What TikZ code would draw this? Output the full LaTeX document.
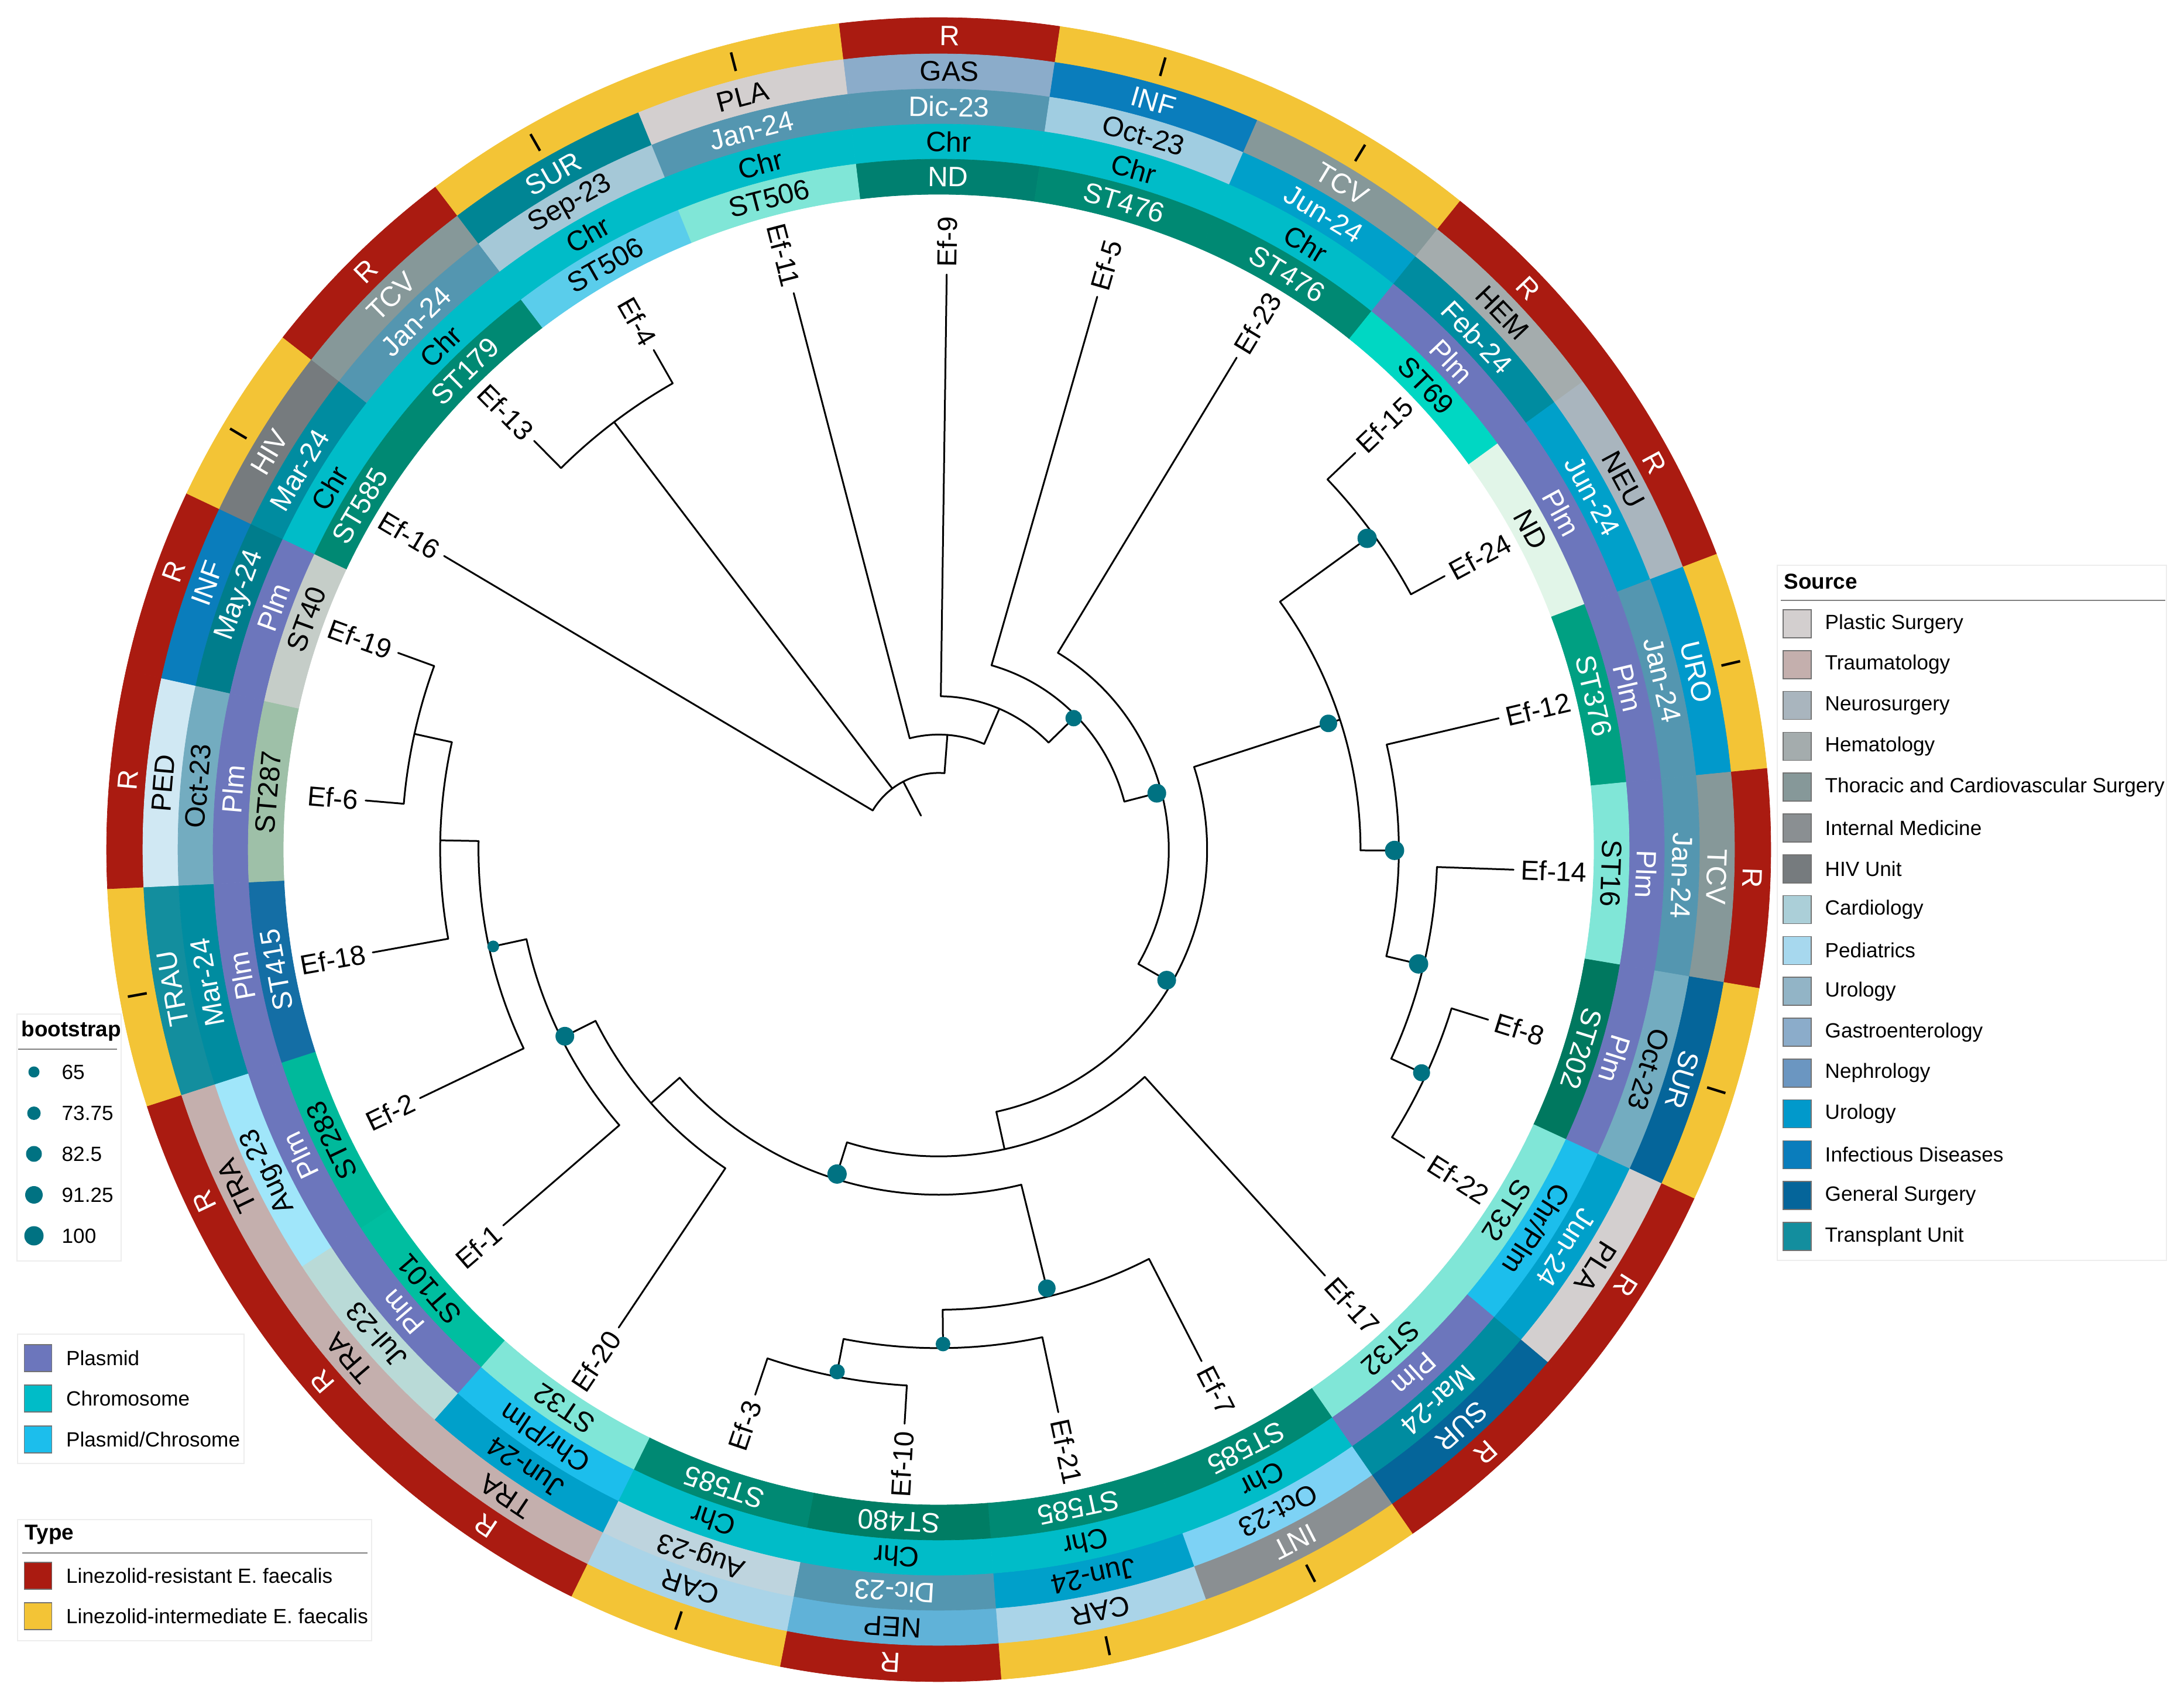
\documentclass[tikz,border=0pt]{standalone}
\usepackage{fontspec}
\setmainfont{Liberation Sans}
% type / location / dots
\definecolor{cR}{RGB}{170,27,17}
\definecolor{cI}{RGB}{243,196,54}
\definecolor{cChr}{RGB}{0,188,200}
\definecolor{cPlm}{RGB}{108,118,188}
\definecolor{cCP}{RGB}{28,190,236}
\definecolor{dotc}{RGB}{0,114,130}
% source (legend)
\definecolor{sPLA}{RGB}{211,207,207}
\definecolor{sTRA}{RGB}{196,175,173}
\definecolor{sNEU}{RGB}{169,181,190}
\definecolor{sHEM}{RGB}{164,172,173}
\definecolor{sTCV}{RGB}{134,152,153}
\definecolor{sINT}{RGB}{138,143,146}
\definecolor{sHIV}{RGB}{118,123,126}
\definecolor{sCAR}{RGB}{171,207,216}
\definecolor{sPED}{RGB}{167,216,238}
\definecolor{sURO}{RGB}{146,180,198}
\definecolor{sGAS}{RGB}{139,172,202}
\definecolor{sNEP}{RGB}{107,150,193}
\definecolor{sURO2}{RGB}{1,153,203}
\definecolor{sINF}{RGB}{10,125,188}
\definecolor{sSUR}{RGB}{5,101,154}
\definecolor{sTRAU}{RGB}{19,142,158}
% ring specific source shades
\definecolor{rPED}{RGB}{208,232,243}
\definecolor{rNEP}{RGB}{96,178,216}
\definecolor{rCAR}{RGB}{170,212,232}
\definecolor{rSUR4}{RGB}{0,133,148}
\definecolor{rGAS}{RGB}{139,172,202}
% dates
\definecolor{dSteel}{RGB}{84,150,176}
\definecolor{dLight}{RGB}{160,205,225}
\definecolor{dBlue}{RGB}{0,160,202}
\definecolor{dTeal}{RGB}{0,140,160}
\definecolor{dOct}{RGB}{115,172,192}
\definecolor{dSky}{RGB}{125,210,245}
\definecolor{dAug}{RGB}{190,212,222}
\definecolor{dJul}{RGB}{185,218,215}
\definecolor{dCyan}{RGB}{160,230,250}
\definecolor{dMay}{RGB}{0,125,140}
\definecolor{dSep}{RGB}{165,200,215}
% ST
\definecolor{tDark}{RGB}{0,137,115}
\definecolor{tND}{RGB}{0,128,112}
\definecolor{t69}{RGB}{0,215,195}
\definecolor{tND2}{RGB}{225,245,232}
\definecolor{t376}{RGB}{0,160,130}
\definecolor{tAqua}{RGB}{128,230,215}
\definecolor{t202}{RGB}{0,120,95}
\definecolor{t480}{RGB}{0,125,100}
\definecolor{t101}{RGB}{0,190,160}
\definecolor{t283}{RGB}{0,185,155}
\definecolor{t415}{RGB}{20,110,165}
\definecolor{t287}{RGB}{158,192,168}
\definecolor{t40}{RGB}{197,205,200}
\definecolor{t506}{RGB}{90,205,235}

\def\lu{0.6553cm}
\newcommand\setleaf[3]{\def\Lt{#1}\def\La{#2}\def\Lb{#3}}
\newcommand\ringcell[6]{%
  \fill[#4, draw=#4, line width=0.2pt] (\La:#1) arc[start angle=\La, end angle=\Lb, radius=#1]
     -- (\Lb:#2) arc[start angle=\Lb, end angle=\La, radius=#2] -- cycle;
  \pgfmathsetmacro\Lrot{\Lt-90}%
  \node[ringtxt, text=#5, rotate=\Lrot] at (\Lt:#3) {#6};}
\newcommand\cST[3]{\ringcell{11.20cm}{11.80cm}{11.50cm}{#1}{#2}{#3}}
\newcommand\locChr{\ringcell{11.80cm}{12.40cm}{12.10cm}{cChr}{black}{Chr}}
\newcommand\locPlm{\ringcell{11.80cm}{12.40cm}{12.10cm}{cPlm}{white}{Plm}}
\newcommand\locCP{\ringcell{11.80cm}{12.40cm}{12.10cm}{cCP}{black}{Chr/Plm}}
\newcommand\cDate[3]{\ringcell{12.40cm}{13.00cm}{12.70cm}{#1}{#2}{#3}}
\newcommand\cSrc[3]{\ringcell{13.00cm}{13.60cm}{13.30cm}{#1}{#2}{#3}}
\newcommand\typeR{\ringcell{13.60cm}{14.22cm}{13.91cm}{cR}{white}{R}}
\newcommand\typeI{\ringcell{13.60cm}{14.22cm}{13.91cm}{cI}{black}{I}}
\newcommand\tedge[4]{%
  \coordinate (#1) at (#2:{#4*\lu});
  \coordinate (#1-b) at (#2:{#3*\lu});
  \draw[treeln] (#1-b) -- (#1);}
\newcommand\tclade[4]{\draw[treeln] (#1-b) arc[start angle=#2, end angle=#3, radius={#4*\lu}];}
\newcommand\bdot[3]{\fill[dotc] (#1:#2cm) circle[radius=#3cm];}
\newcommand\leaflab[2]{%
  \pgfmathtruncatemacro\Lside{cos(#2)>0}%
  \ifnum\Lside=1
    \node[leaftxt, anchor=west, rotate=#2] (L#1) at (#2:9.95cm) {#1};
  \else
    \pgfmathsetmacro\Lrr{#2+180}%
    \node[leaftxt, anchor=east, rotate=\Lrr] (L#1) at (#2:9.95cm) {#1};
  \fi}

\begin{document}
\begin{tikzpicture}[
  treeln/.style={line width=0.03cm, line cap=round, line join=round, black},
  ringtxt/.style={inner sep=0pt, font=\fontsize{13.6}{16}\selectfont},
  leaftxt/.style={inner sep=0pt, font=\fontsize{13.4}{16}\selectfont},
  legtxt/.style={inner sep=0pt, font=\fontsize{10}{12}\selectfont},
  legtitle/.style={inner sep=0pt, font=\fontsize{10.5}{12}\selectfont\bfseries},
  legbox/.style={draw=black!7, fill=white, line width=0.5pt},
  legline/.style={draw=black!50, line width=0.8pt},
  swatch/.style={draw=black!55, line width=0.5pt}
]
\fill[white] (0,0) rectangle (37.32,28.95);
\useasboundingbox (0,0) rectangle (37.32,28.95);

\begin{scope}[shift={(16.04,14.43)}]
% ---------------- rings ----------------
\setleaf{89.2}{81.6}{96.9}\typeR\cSrc{rGAS}{black}{GAS}\cDate{dSteel}{white}{Dic-23}\locChr\cST{tND}{white}{ND}
\setleaf{74.0}{66.4}{81.6}\typeI\cSrc{sINF}{white}{INF}\cDate{dLight}{black}{Oct-23}\locChr\cST{tDark}{white}{ST476}
\setleaf{58.8}{51.2}{66.4}\typeI\cSrc{sTCV}{white}{TCV}\cDate{dBlue}{white}{Jun-24}\locChr\cST{tDark}{white}{ST476}
\setleaf{43.6}{36.0}{51.2}\typeR\cSrc{sHEM}{black}{HEM}\cDate{dTeal}{white}{Feb-24}\locPlm\cST{t69}{black}{ST69}
\setleaf{28.4}{20.8}{36.0}\typeR\cSrc{sNEU}{black}{NEU}\cDate{dBlue}{white}{Jun-24}\locPlm\cST{tND2}{black}{ND}
\setleaf{13.2}{5.6}{20.8}\typeI\cSrc{sURO2}{white}{URO}\cDate{dSteel}{white}{Jan-24}\locPlm\cST{t376}{white}{ST376}
\setleaf{-2.0}{-9.6}{5.6}\typeR\cSrc{sTCV}{white}{TCV}\cDate{dSteel}{white}{Jan-24}\locPlm\cST{tAqua}{black}{ST16}
\setleaf{-17.2}{-24.8}{-9.6}\typeI\cSrc{sSUR}{white}{SUR}\cDate{dOct}{black}{Oct-23}\locPlm\cST{t202}{white}{ST202}
\setleaf{-32.4}{-40.1}{-24.8}\typeR\cSrc{sPLA}{black}{PLA}\cDate{dBlue}{white}{Jun-24}\locCP\cST{tAqua}{black}{ST32}
\setleaf{-47.8}{-55.3}{-40.1}\typeR\cSrc{sSUR}{white}{SUR}\cDate{dTeal}{white}{Mar-24}\locPlm\cST{tAqua}{black}{ST32}
\setleaf{-62.8}{-70.4}{-55.3}\typeI\cSrc{sINT}{white}{INT}\cDate{dSky}{black}{Oct-23}\locChr\cST{tDark}{white}{ST585}
\setleaf{-78.0}{-85.7}{-70.4}\typeI\cSrc{rCAR}{black}{CAR}\cDate{dBlue}{black}{Jun-24}\locChr\cST{tDark}{white}{ST585}
\setleaf{-93.4}{-101.0}{-85.7}\typeR\cSrc{rNEP}{black}{NEP}\cDate{dSteel}{white}{Dic-23}\locChr\cST{t480}{white}{ST480}
\setleaf{-108.6}{-116.2}{-101.0}\typeI\cSrc{rCAR}{black}{CAR}\cDate{dAug}{black}{Aug-23}\locChr\cST{tDark}{white}{ST585}
\setleaf{-123.8}{-131.5}{-116.2}\typeR\cSrc{sTRA}{black}{TRA}\cDate{dBlue}{black}{Jun-24}\locCP\cST{tAqua}{black}{ST32}
\setleaf{-139.2}{-146.8}{-131.5}\typeR\cSrc{sTRA}{black}{TRA}\cDate{dJul}{black}{Jul-23}\locPlm\cST{t101}{black}{ST101}
\setleaf{-154.4}{-162.05}{-146.8}\typeR\cSrc{sTRA}{black}{TRA}\cDate{dCyan}{black}{Aug-23}\locPlm\cST{t283}{black}{ST283}
\setleaf{-169.7}{-177.3}{-162.05}\typeI\cSrc{sTRAU}{white}{TRAU}\cDate{dTeal}{white}{Mar-24}\locPlm\cST{t415}{white}{ST415}
\setleaf{175.1}{167.55}{182.7}\typeR\cSrc{rPED}{black}{PED}\cDate{dOct}{black}{Oct-23}\locPlm\cST{t287}{black}{ST287}
\setleaf{160.0}{154.65}{167.55}\typeR\cSrc{sINF}{white}{INF}\cDate{dMay}{white}{May-24}\locPlm\cST{t40}{black}{ST40}
\setleaf{149.3}{142.0}{154.65}\typeI\cSrc{sHIV}{white}{HIV}\cDate{dTeal}{white}{Mar-24}\locChr\cST{tDark}{white}{ST585}
\setleaf{134.7}{127.2}{142.0}\typeR\cSrc{sTCV}{white}{TCV}\cDate{dSteel}{white}{Jan-24}\locChr\cST{tDark}{white}{ST179}
\setleaf{119.7}{112.15}{127.2}\typeI\cSrc{rSUR4}{white}{SUR}\cDate{dSep}{black}{Sep-23}\locChr\cST{t506}{black}{ST506}
\setleaf{104.6}{96.9}{112.15}\typeI\cSrc{sPLA}{black}{PLA}\cDate{dSteel}{white}{Jan-24}\locChr\cST{tAqua}{black}{ST506}

% ---------------- tree ----------------
\coordinate (root) at (117.5:{1*\lu});
\coordinate (n0) at (117.5:{2*\lu});
\draw[treeln] (root) -- (n0);
\tedge{nL}{85.65}{2}{3}
\tedge{nN}{127.2}{2}{14}
\tedge{t16}{149.3}{2}{15}
\tclade{nL}{85.65}{149.3}{2}
\tedge{t11}{104.6}{3}{15}
\tedge{nK}{66.7}{3}{4}
\tclade{nK}{66.7}{104.6}{3}
\tedge{t9}{89.2}{4}{15}
\tedge{nJ}{44.25}{4}{5}
\tclade{nJ}{44.25}{89.2}{4}
\tedge{t5}{74.0}{5}{15}
\tedge{nI}{14.5}{5}{6}
\tclade{nI}{14.5}{74.0}{5}
\tedge{t23}{58.8}{6}{15}
\tedge{nH}{-29.8}{6}{7}
\tclade{nH}{-29.8}{58.8}{6}
\tedge{nR}{17.95}{7}{11}
\tedge{nG}{-77.6}{7}{8}
\tclade{nG}{-77.6}{17.95}{7}
\tedge{t17}{-47.8}{8}{15}
\tedge{nE}{-107.39}{8}{9}
\tclade{nE}{-107.39}{-47.8}{8}
\tedge{nD}{-138.63}{9}{10}
\tedge{nF}{-76.15}{9}{12}
\tclade{nD}{-138.63}{-76.15}{9}
\tedge{t20}{-123.8}{10}{15}
\tedge{nC}{-153.47}{10}{11}
\tclade{nC}{-153.47}{-123.8}{10}
\tedge{t1}{-139.2}{11}{15}
\tedge{nB}{-167.74}{11}{12}
\tclade{nB}{-167.74}{-139.2}{11}
\tedge{t2}{-154.4}{12}{15}
\tedge{nA}{-181.07}{12}{13}
\tclade{nA}{-181.07}{-154.4}{12}
\tedge{t18}{-169.7}{13}{15}
\tedge{n196}{-192.45}{13}{14}
\tclade{n196}{-192.45}{-169.7}{13}
\tedge{t19}{-200.0}{14}{15}
\tedge{t6}{-184.9}{14}{15}
\tclade{t19}{-200.0}{-184.9}{14}
\tedge{t7}{-62.8}{12}{15}
\tedge{nP}{-89.5}{12}{13}
\tclade{nP}{-89.5}{-62.8}{12}
\tedge{t21}{-78.0}{13}{15}
\tedge{nQ}{-101.0}{13}{14}
\tclade{nQ}{-101.0}{-78.0}{13}
\tedge{t3}{-108.6}{14}{15}
\tedge{t10}{-93.4}{14}{15}
\tclade{t3}{-108.6}{-93.4}{14}
\tedge{nS}{36.0}{11}{14}
\tedge{nT}{-0.1}{11}{12}
\tclade{nT}{-0.1}{36.0}{11}
\tedge{t24}{28.4}{14}{15}
\tedge{t15}{43.6}{14}{15}
\tclade{t24}{28.4}{43.6}{14}
\tedge{t12}{13.2}{12}{15}
\tedge{nV}{-13.4}{12}{13}
\tclade{nV}{-13.4}{13.2}{12}
\tedge{t14}{-2.0}{13}{15}
\tedge{nW}{-24.8}{13}{14}
\tclade{nW}{-24.8}{-2.0}{13}
\tedge{t22}{-32.4}{14}{15}
\tedge{t8}{-17.2}{14}{15}
\tclade{t22}{-32.4}{-17.2}{14}
\tedge{t4}{119.7}{14}{15}
\tedge{t13}{134.7}{14}{15}
\tclade{t4}{119.7}{134.7}{14}

% bootstrap dots
\bdot{-167.74}{7.79}{0.10}
\bdot{-153.47}{7.14}{0.16}
\bdot{-107.39}{5.81}{0.165}
\bdot{-76.15}{7.72}{0.15}
\bdot{-89.5}{8.45}{0.125}
\bdot{-101.0}{9.09}{0.13}
\bdot{-29.8}{4.49}{0.16}
\bdot{14.5}{3.85}{0.16}
\bdot{44.25}{3.22}{0.14}
\bdot{17.95}{7.00}{0.15}
\bdot{36.0}{9.05}{0.165}
\bdot{-0.1}{7.79}{0.165}
\bdot{-13.4}{8.43}{0.165}
\bdot{-24.8}{9.09}{0.145}

% leaf labels
\leaflab{Ef-9}{89.2}
\leaflab{Ef-5}{74.0}
\leaflab{Ef-23}{58.8}
\leaflab{Ef-15}{43.6}
\leaflab{Ef-24}{28.4}
\leaflab{Ef-12}{13.2}
\leaflab{Ef-14}{-2.0}
\leaflab{Ef-8}{-17.2}
\leaflab{Ef-22}{-32.4}
\leaflab{Ef-17}{-47.8}
\leaflab{Ef-7}{-62.8}
\leaflab{Ef-21}{-78.0}
\leaflab{Ef-10}{-93.4}
\leaflab{Ef-3}{-108.6}
\leaflab{Ef-20}{-123.8}
\leaflab{Ef-1}{-139.2}
\leaflab{Ef-2}{-154.4}
\leaflab{Ef-18}{-169.7}
\leaflab{Ef-6}{175.1}
\leaflab{Ef-19}{160.0}
\leaflab{Ef-16}{149.3}
\leaflab{Ef-13}{134.7}
\leaflab{Ef-4}{119.7}
\leaflab{Ef-11}{104.6}
\end{scope}

% ---------------- Source legend ----------------
\draw[legbox] (30.37,19.29) rectangle (37.02,7.41);
\node[legtitle, anchor=west] (srcT) at (30.48,19.01) {Source};
\draw[legline] (30.43,18.69) -- (37.00,18.69);
\foreach \c/\t [count=\k from 0] in {sPLA/Plastic Surgery, sTRA/Traumatology, sNEU/Neurosurgery, sHEM/Hematology, sTCV/Thoracic and Cardiovascular Surgery, sINT/Internal Medicine, sHIV/HIV Unit, sCAR/Cardiology, sPED/Pediatrics, sURO/Urology, sGAS/Gastroenterology, sNEP/Nephrology, sURO2/Urology, sINF/Infectious Diseases, sSUR/General Surgery, sTRAU/Transplant Unit}{
  \pgfmathsetmacro\yy{18.29-0.698*\k}
  \draw[swatch, fill=\c] (30.47,{\yy-0.24}) rectangle (30.95,{\yy+0.24});
  \node[legtxt, anchor=west] (src\k) at (31.18,\yy) {\t};
}

% ---------------- bootstrap legend ----------------
\draw[legbox] (0.29,11.62) rectangle (2.07,7.40);
\node[legtitle, anchor=west] (bsT) at (0.36,11.33) {bootstrap};
\draw[legline] (0.31,11.02) -- (2.00,11.02);
\foreach \yy/\rr/\t [count=\k] in {10.63/0.095/65, 9.925/0.115/73.75, 9.23/0.135/82.5, 8.53/0.15/91.25, 7.83/0.165/100}{
  \fill[dotc] (0.58,\yy) circle[radius=\rr];
  \node[legtxt, anchor=west] (bs\k) at (1.05,\yy) {\t};
}

% ---------------- location legend ----------------
\draw[legbox] (0.30,6.15) rectangle (4.17,3.94);
\draw[swatch, fill=cPlm] (0.415,5.51) rectangle (0.884,5.97);
\node[legtxt, anchor=west] (loc1) at (1.125,5.74) {Plasmid};
\draw[swatch, fill=cChr] (0.415,4.82) rectangle (0.884,5.28);
\node[legtxt, anchor=west] (loc2) at (1.125,5.05) {Chromosome};
\draw[swatch, fill=cCP] (0.415,4.12) rectangle (0.884,4.58);
\node[legtxt, anchor=west] (loc3) at (1.125,4.35) {Plasmid/Chrosome};

% ---------------- type legend ----------------
\draw[legbox] (0.30,2.98) rectangle (6.35,0.91);
\node[legtitle, anchor=west] (tyT) at (0.42,2.72) {Type};
\draw[legline] (0.38,2.41) -- (6.28,2.41);
\draw[swatch, fill=cR] (0.415,1.79) rectangle (0.884,2.25);
\node[legtxt, anchor=west] (ty1) at (1.125,2.02) {Linezolid-resistant E. faecalis};
\draw[swatch, fill=cI] (0.415,1.10) rectangle (0.884,1.56);
\node[legtxt, anchor=west] (ty2) at (1.125,1.33) {Linezolid-intermediate E. faecalis};
\end{tikzpicture}
\end{document}
